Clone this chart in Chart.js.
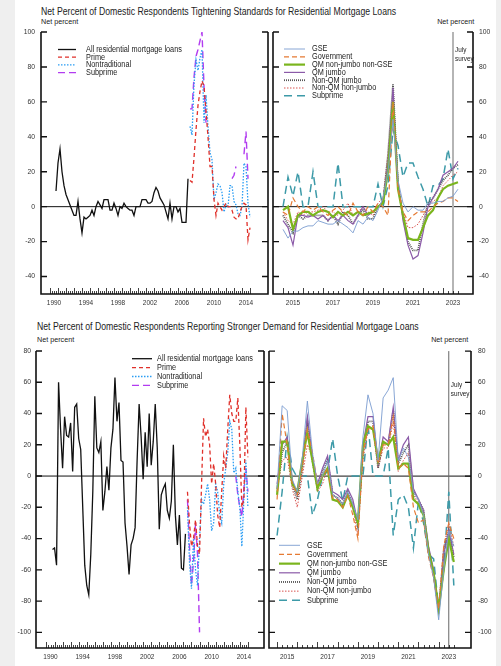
<!DOCTYPE html>
<html>
<head>
<meta charset="utf-8">
<script src="https://cdn.jsdelivr.net/npm/chart.js@4.4.1/dist/chart.umd.min.js"></script>
<style>
  body { margin: 0; width: 501px; height: 666px; background: #efefef; position: relative; overflow: hidden; }
  #card { position: absolute; left: 15px; top: 0; width: 481px; height: 666px; background: #fff; }
  canvas { position: absolute; }
  .txt { position: absolute; white-space: nowrap; color: #222; line-height: 1;
         font-family: "Liberation Sans", Arial, sans-serif; }
  .title { font-size: 10.3px; transform: scaleX(0.843); transform-origin: left top; }
  .unit { font-size: 8px; transform: scaleX(0.9); }
  .unit.l { transform-origin: left top; }
  .unit.r { transform-origin: right top; }
</style>
</head>
<body>
<div id="card"></div>

<div class="txt title" style="left:41px;top:7px">Net Percent of Domestic Respondents Tightening Standards for Residential Mortgage Loans</div>
<div class="txt unit l" style="left:41px;top:18px">Net percent</div>
<div class="txt unit r" style="right:27px;top:18px">Net percent</div>

<div class="txt title" style="left:37px;top:322px">Net Percent of Domestic Respondents Reporting Stronger Demand for Residential Mortgage Loans</div>
<div class="txt unit l" style="left:37px;top:336px">Net percent</div>
<div class="txt unit r" style="right:33px;top:336px">Net percent</div>

<canvas id="tl" width="276" height="292" style="left:0;top:20px"></canvas>
<canvas id="tr" width="231" height="292" style="left:270px;top:20px"></canvas>
<canvas id="bl" width="272" height="326" style="left:0;top:340px"></canvas>
<canvas id="br" width="235" height="326" style="left:266px;top:340px"></canvas>

<script>
// ---- data ----
// tick labels
const yTicksTop = [-40, -20, 0, 20, 40, 60, 80, 100];
const yTicksBottom = [-100, -80, -60, -40, -20, 0, 20, 40, 60, 80];
const oldYearLabels = ["1990", "1994", "1998", "2002", "2006", "2010", "2014"];
const newYearLabels = ["2015", "2017", "2019", "2021", "2023"];

// quarterly series, first quarter given as a decimal year
const allStart = 1990.75;
const splitStart = 2007.5;
const newStart = 2015.0;
const surveyDate = 2023.5;

// tightening standards, 1990-2007
const allTight = [9, 25, 33, 20, 12, 7, 4, 1, -2, -5,
  -5, 3, -7, -15, -6, -7, -6, -5, -2, -5,
  0, 3, 1, -1, 4, 4, 4, -2, -2, 2,
  -1, -5, 0, -1, 2, 0, -1, -2, -2, -5,
  0, 0, 0, 4, 4, 4, 2, 2, 3, 8,
  11, 9, 5, 3, 1, -3, -7, 2, -7, 0,
  0, -3, -1, -9, -9, -9, 16];
// tightening standards, 2007-2015
const primeTight = [15, 14, 28, 44, 58, 66, 72, 69, 55, 40, 23, 23, 4, -5, 2, 0, -2, 0, 2, 0, 0, -2, -6, -7, -7, -3, 0, 2, 1, -19, -12];
const nontradTight = [46, 41, 70, 84, 78, 85, 90, 48, 64, 46, 31, 27, 4, 8, 13, 12, 8, -3, 1, 0, 12, 12, 3, 1, -4, -5, 0, 25, 23, 2, -6];
const subprimeTight = [56, 56, 74, 86, 90, 95, 100, 69, 48, null, null, null, null, null, null, null, null, null, null, null, null, 16, 18, 23, null, null, null, 30, 43, 16];

// tightening standards, 2015-2023
const gseTight = [-13, -18, -14, -14, -12, -11, -11, -8, -9, -10, -10, -8, -10, -12, -15, -8, -10, -6, -8, -2, 5, 20, 50, 15, 2, -3, 0, -2, -2, 2, 2, 3, 3, 5, 6, 10];
const govTight = [-3, -5, 5, 0, -3, 0, -2, 0, -3, -5, -2, 0, -3, -5, 2, -3, -5, 0, -3, 2, 0, -5, 60, 10, -3, -8, -5, -3, -3, -3, 0, 2, 3, 5, 5, 3];
const qmNonJumboTight = [-2, 0, -13, -5, -3, -3, -5, -3, -2, -3, -6, -3, -5, -3, -5, -3, -5, -4, -3, 0, 2, 20, 60, 10, -5, -18, -19, -19, -12, -5, -2, 5, 10, 12, 13, 14];
const qmJumboTight = [-8, -12, -22, -5, -5, -6, -5, -7, -5, -8, -5, -8, -5, -8, -10, -5, 0, -5, -3, 0, 3, 25, 68, 15, -8, -22, -30, -28, -15, 0, 5, 10, 18, 20, 22, 26];
const nonQmJumboTight = [-5, -10, -15, -5, -7, -5, -5, -5, -5, -8, -5, -10, -3, -5, -10, -5, -2, -7, -7, 0, 2, 30, 70, 12, -5, -20, -25, -25, -10, 2, 5, 10, 15, 18, 22, 24];
const nonQmNonJumboTight = [-3, -8, -10, -3, -5, -3, -3, -2, 0, -3, -3, -5, -2, 2, -5, -3, 0, -3, -5, 2, 5, 30, 62, 12, -3, -12, -12, -10, -5, 0, 3, 5, 12, 15, 18, 20];
const subprimeTightNew = [0, 17, 6, 20, 0, 0, 20, 0, 0, 0, 0, 25, 0, 0, 0, 0, 0, 0, 0, 13, 0, 12, 44, 35, 17, 25, 25, 17, 10, 0, 12, 12, 16, 33, 16, 22];

// stronger demand, 1990-2007
const allDemand = [-47, -46, -57, 60, 30, 5, 38, 26, 25, 34,
  3, 44, 46, 24, 17, -20, -57, -70, -76, -50,
  -10, 51, 18, 15, 22, -22, -10, 6, -9, 18,
  30, 63, 35, 47, 10, 9, -30, -45, -63, -44,
  -40, -33, 10, 46, 25, -2, 28, 6, 40, 7,
  22, 46, 18, -34, -12, -8, -5, -22, -27, -16,
  20, -25, -44, -25, -59, -60, -37];
// stronger demand, 2007-2015
const primeDemand = [-10, -30, -45, -40, -28, -45, -50, -5, 37, 25, 30, 20, -5, 8, -5, -25, -33, -10, 13, 5, 30, 52, 40, 35, 35, 50, 20, -20, -15, 44, 12];
const nontradDemand = [-20, -55, -72, -40, -60, -70, -40, -15, -18, -12, -5, -15, -35, -30, -5, -10, -25, -30, -5, 5, 15, 35, 30, 2, 5, -10, -20, -45, -15, 10, -20];
const subprimeDemand = [-15, -45, -70, -55, -30, -50, -100, null, null, null, null, null, null, null, null, null, null, null, null, null, null, null, null, null, 0, -12, -20, -26, -8, 5, -10];

// stronger demand, 2015-2023
const gseDemand = [-8, 45, 42, -2, -10, 12, 48, 15, -5, 0, 10, -12, -14, -18, -10, -18, -28, 25, 52, 40, 10, 50, 55, 63, 10, 18, 12, -10, -15, -25, -50, -65, -92, -60, -35, -45];
const govDemand = [-15, 40, 20, -5, -12, 5, 30, 15, -5, 0, 5, -14, -15, -20, -12, -25, -40, 15, 30, 32, 8, 20, 20, 38, 5, 8, 5, -20, -30, -28, -52, -65, -85, -45, -30, -40];
const qmNonJumboDemand = [-12, 22, 22, -5, -10, 10, 28, 10, -8, 0, 5, -15, -16, -20, -12, -20, -30, 20, 32, 30, 10, 22, 20, 25, 5, 8, 8, -15, -18, -25, -48, -62, -85, -60, -40, -55];
const qmJumboDemand = [-5, 20, 25, -3, -12, 8, 38, 12, -5, 5, 13, -10, -12, -15, -8, -15, -30, 20, 38, 38, 8, 25, 22, 44, 10, 20, 25, -8, -15, -22, -45, -60, -88, -50, -35, -50];
const nonQmJumboDemand = [-8, 15, 22, -5, -15, 5, 35, 10, -8, 3, 10, -12, -14, -18, -10, -18, -32, 15, 35, 35, 5, 22, 20, 42, 8, 15, 20, -10, -15, -22, -48, -62, -86, -48, -35, -52];
const nonQmNonJumboDemand = [-10, 10, 12, -8, -20, 0, 20, 12, -10, -5, 5, -12, -15, -18, -12, -20, -38, 10, 30, 30, 5, 18, 18, 35, 3, 10, 15, -12, -18, -25, -50, -65, -85, -45, -30, -45];
const subprimeDemandNew = [-38, -10, 25, 5, -1, 0, 0, -25, -15, 0, 3, 24, 0, -16, 0, 0, 0, 0, 33, 0, 0, 0, 18, -38, -15, -12, -20, -46, -16, -30, -50, -53, -85, -60, -10, -70];

// ---- drawing ----
const FONT = '"Liberation Sans", Arial, sans-serif';

function quarterly(start, values) {
    return values.map((v, i) => ({ x: start + i * 0.25, y: v }));
}

function series(label, start, values, style) {
    return Object.assign({ label: label, data: quarterly(start, values), pointRadius: 0, borderWidth: 1.2, fill: false }, style);
}

// narrow text, the original uses a condensed face
function squeezedText(ctx, text, x, y, k) {
    ctx.save();
    ctx.translate(x, y);
    ctx.scale(k, 1);
    ctx.fillText(text, 0, 0);
    ctx.restore();
}

const sAll = { borderColor: "#111", borderWidth: 1.3 };
const sPrime = { borderColor: "#e0302a", borderDash: [4, 3], borderWidth: 1.3 };
const sNontrad = { borderColor: "#2a9df4", borderDash: [1.5, 1.5], borderWidth: 1.3 };
const sSubOld = { borderColor: "#b23cf0", borderDash: [7, 4], borderWidth: 1.4 };
const sGse = { borderColor: "#7b9cd0", borderWidth: 0.9 };
const sGov = { borderColor: "#e57a33", borderDash: [5, 3], borderWidth: 1.2 };
const sQmNj = { borderColor: "#7ab51d", borderWidth: 2.2 };
const sQmJ = { borderColor: "#8b5aa8", borderWidth: 1.2 };
const sNqJ = { borderColor: "#555", borderDash: [1, 1], borderWidth: 1.8 };
const sNqNj = { borderColor: "#d9534f", borderDash: [1.5, 1.5], borderWidth: 1 };
const sSubNew = { borderColor: "#3d9aa8", borderDash: [8, 5], borderWidth: 1.5 };

// frame, inward ticks, zero line and survey marker
const framePlugin = {
    id: "frame",
    beforeDatasetsDraw(chart, args, o) {
        const { ctx, chartArea: a, scales } = chart;
        const y0 = scales.y.getPixelForValue(0);
        ctx.save();
        ctx.strokeStyle = "#111";
        ctx.lineWidth = 1;
        ctx.beginPath();
        ctx.moveTo(a.left, y0); ctx.lineTo(a.right, y0);
        ctx.stroke();
        if (o.survey) {
            const sx = scales.x.getPixelForValue(o.survey);
            ctx.strokeStyle = o.surveyColor;
            ctx.lineWidth = o.surveyWidth;
            ctx.beginPath();
            ctx.moveTo(sx, a.top); ctx.lineTo(sx, a.bottom);
            ctx.stroke();
            ctx.fillStyle = "#222";
            ctx.font = "7.5px " + FONT;
            ctx.textBaseline = "middle";
            squeezedText(ctx, "July", sx + 2, a.top + o.surveyTextY, 0.85);
            squeezedText(ctx, "survey", sx + 2, a.top + o.surveyTextY + 9, 0.85);
        }
        ctx.restore();
    },
    afterDatasetsDraw(chart, args, o) {
        const { ctx, chartArea: a, scales } = chart;
        ctx.save();
        ctx.strokeStyle = "#111";
        ctx.lineWidth = 1.6;
        ctx.beginPath();
        ctx.moveTo(a.left, a.top); ctx.lineTo(a.left, a.bottom);
        ctx.lineTo(a.right, a.bottom); ctx.lineTo(a.right, a.top);
        ctx.stroke();
        ctx.lineWidth = 1.4;
        ctx.beginPath();
        o.yTicks.forEach(v => {
            const py = scales.y.getPixelForValue(v);
            ctx.moveTo(a.left, py); ctx.lineTo(a.left + 6, py);
            ctx.moveTo(a.right, py); ctx.lineTo(a.right - 6, py);
        });
        ctx.stroke();
        ctx.lineWidth = 0.8;
        ctx.beginPath();
        for (let q = o.tickFrom; q <= o.tickTo + 0.001; q += 0.25) {
            const px = Math.round(scales.x.getPixelForValue(q)) + 0.5;
            const len = Math.abs(q - Math.round(q)) < 0.001 ? 6 : 3;
            ctx.moveTo(px, a.bottom); ctx.lineTo(px, a.bottom - len);
        }
        ctx.stroke();
        ctx.restore();
    }
};

// legend drawn at a fixed spot inside the panel
const legendPlugin = {
    id: "boxLegend",
    afterDraw(chart, args, o) {
        const ctx = chart.ctx;
        ctx.save();
        ctx.font = o.size + "px " + FONT;
        ctx.textBaseline = "middle";
        chart.data.datasets.forEach((ds, i) => {
            const y = o.y + i * o.step;
            ctx.beginPath();
            ctx.strokeStyle = ds.borderColor;
            ctx.lineWidth = ds.borderWidth;
            ctx.setLineDash(ds.borderDash || []);
            ctx.moveTo(o.x, y); ctx.lineTo(o.x + o.len, y);
            ctx.stroke();
            ctx.setLineDash([]);
            ctx.fillStyle = "#222";
            squeezedText(ctx, ds.label, o.x + o.len + o.gap, y, 0.86);
        });
        ctx.restore();
    }
};

function makePanel(id, c) {
    return new Chart(document.getElementById(id), {
        type: "line",
        data: { datasets: c.datasets },
        options: {
            responsive: false,
            animation: false,
            devicePixelRatio: 1,
            layout: { padding: c.padding },
            elements: { line: { tension: 0 }, point: { radius: 0 } },
            plugins: {
                legend: { display: false },
                tooltip: { enabled: false },
                frame: c.frame,
                boxLegend: c.legend
            },
            scales: {
                x: {
                    type: "linear",
                    min: c.xMin, max: c.xMax,
                    grid: { display: false, drawTicks: false },
                    border: { display: false },
                    afterBuildTicks: s => { s.ticks = c.xLabels.map(l => ({ value: Number(l) + 0.5 })); },
                    afterFit: s => { s.height = 18; },
                    ticks: { autoSkip: false, maxRotation: 0, padding: 5, color: "#333",
                             font: { family: FONT, size: 6.5 },
                             callback: (v, i) => c.xLabels[i] }
                },
                y: {
                    position: c.side,
                    min: c.yMin, max: c.yMax,
                    grid: { display: false, drawTicks: false },
                    border: { display: false },
                    afterBuildTicks: s => { s.ticks = c.yTicks.map(v => ({ value: v })); },
                    afterFit: s => { s.width = c.yWidth; },
                    ticks: { padding: c.yPad, color: "#333", font: { family: FONT, size: 6.8 } }
                }
            }
        },
        plugins: [framePlugin, legendPlugin]
    });
}

makePanel("tl", {
    datasets: [
        series("All residential mortgage loans", allStart, allTight, sAll),
        series("Prime", splitStart, primeTight, sPrime),
        series("Nontraditional", splitStart, nontradTight, sNontrad),
        series("Subprime", splitStart, subprimeTight, sSubOld)
    ],
    padding: { top: 12, right: 8, left: 0, bottom: 0 },
    xMin: 1988.875, xMax: 2017.25, xLabels: oldYearLabels,
    yMin: -50, yMax: 100, yTicks: yTicksTop, side: "left", yWidth: 41, yPad: 6,
    frame: { yTicks: yTicksTop, tickFrom: 1990, tickTo: 2015 },
    legend: { x: 58, y: 29.5, step: 7.7, len: 18, gap: 10, size: 8.5 }
});

makePanel("tr", {
    datasets: [
        series("GSE", newStart, gseTight, sGse),
        series("Government", newStart, govTight, sGov),
        series("QM non-jumbo non-GSE", newStart, qmNonJumboTight, sQmNj),
        series("QM jumbo", newStart, qmJumboTight, sQmJ),
        series("Non-QM jumbo", newStart, nonQmJumboTight, sNqJ),
        series("Non-QM non-jumbo", newStart, nonQmNonJumboTight, sNqNj),
        series("Subprime", newStart, subprimeTightNew, sSubNew)
    ],
    padding: { top: 12, right: 0, left: 3, bottom: 0 },
    xMin: 2014.5, xMax: 2024.5, xLabels: newYearLabels,
    yMin: -50, yMax: 100, yTicks: yTicksTop, side: "right", yWidth: 28, yPad: 6,
    frame: { yTicks: yTicksTop, tickFrom: 2015, tickTo: 2023.75, survey: surveyDate,
             surveyColor: "#b5b5b5", surveyWidth: 2, surveyTextY: 18 },
    legend: { x: 14, y: 29, step: 7.8, len: 21, gap: 7, size: 8.5 }
});

makePanel("bl", {
    datasets: [
        series("All residential mortgage loans", allStart, allDemand, sAll),
        series("Prime", splitStart, primeDemand, sPrime),
        series("Nontraditional", splitStart, nontradDemand, sNontrad),
        series("Subprime", splitStart, subprimeDemand, sSubOld)
    ],
    padding: { top: 11, right: 8, left: 0, bottom: 0 },
    xMin: 1988.7, xMax: 2017.0, xLabels: oldYearLabels,
    yMin: -110, yMax: 80, yTicks: yTicksBottom, side: "left", yWidth: 36, yPad: 5,
    frame: { yTicks: yTicksBottom, tickFrom: 1990, tickTo: 2015 },
    legend: { x: 132, y: 18.7, step: 8.9, len: 20, gap: 5, size: 8.5 }
});

makePanel("br", {
    datasets: [
        series("GSE", newStart, gseDemand, sGse),
        series("Government", newStart, govDemand, sGov),
        series("QM non-jumbo non-GSE", newStart, qmNonJumboDemand, sQmNj),
        series("QM jumbo", newStart, qmJumboDemand, sQmJ),
        series("Non-QM jumbo", newStart, nonQmJumboDemand, sNqJ),
        series("Non-QM non-jumbo", newStart, nonQmNonJumboDemand, sNqNj),
        series("Subprime", newStart, subprimeDemandNew, sSubNew)
    ],
    padding: { top: 11, right: 0, left: 3, bottom: 0 },
    xMin: 2014.6, xMax: 2024.6, xLabels: newYearLabels,
    yMin: -110, yMax: 80, yTicks: yTicksBottom, side: "right", yWidth: 30, yPad: 7,
    frame: { yTicks: yTicksBottom, tickFrom: 2015, tickTo: 2023.75, survey: surveyDate,
             surveyColor: "#666", surveyWidth: 1, surveyTextY: 34 },
    legend: { x: 13, y: 205.3, step: 9.17, len: 21, gap: 7, size: 8.5 }
});
</script>
</body>
</html>
